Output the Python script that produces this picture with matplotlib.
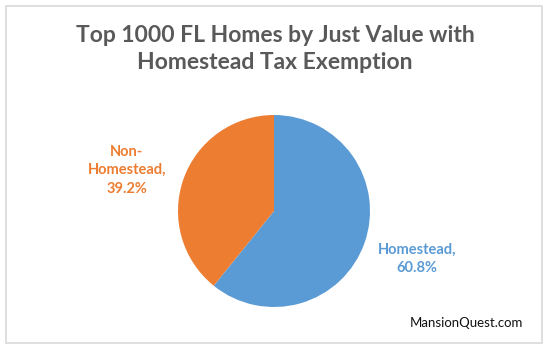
import matplotlib.pyplot as plt
from matplotlib.patches import Rectangle

# data
categories = ["Homestead", "Non-Homestead"]
shares = [60.8, 39.2]
label_texts = ["Homestead,\n60.8%", "Non-\nHomestead,\n39.2%"]
colors = ["#5B9BD5", "#ED7D31"]
title = "Top 1000 FL Homes by Just Value with\nHomestead Tax Exemption"
watermark = "MansionQuest.com"

W, H = 550, 351
fig = plt.figure(figsize=(W / 100, H / 100), dpi=100)
fig.patch.set_facecolor("white")

# chart frame
fig.add_artist(Rectangle((6 / W, 1 - 343 / H), 536 / W, 337 / H,
                         transform=fig.transFigure, fill=False,
                         edgecolor="#D9D9D9", linewidth=1.2))

fig.text(275 / W, 1 - 49 / H, title, ha="center", va="center",
         fontsize=16.5, fontweight="bold", color="#595959",
         family="Lato", linespacing=1.4)

# pie axes: centre ~(274, 211), radius ~96 px
ax = fig.add_axes([178 / W, 1 - 307 / H, 192 / W, 192 / H])
wedges, texts = ax.pie(shares, colors=colors, labels=label_texts,
                       startangle=90, counterclock=False,
                       labeldistance=1.55)
# small nudges so labels sit where Excel put them
nudges = [(0.03, 0.02), (-0.07, -0.09)]
for t, c, (dx, dy) in zip(texts, colors, nudges):
    x, y = t.get_position()
    t.set_position((x + dx, y + dy))
    t.set_ha("center")
    t.set_va("center")
    t.set_color(c)
    t.set_fontsize(10.5)
    t.set_fontweight("bold")
    t.set_family("Lato")
    t.set_linespacing(1.4)
ax.set_aspect("equal")
ax.set_xlim(-1, 1)
ax.set_ylim(-1, 1)
ax.axis("off")

fig.text(466 / W, 1 - 323 / H, watermark, ha="center", va="center",
         fontsize=9.5, color="#111111", family="Lato")

fig.savefig("out.png", dpi=100, facecolor="white")
